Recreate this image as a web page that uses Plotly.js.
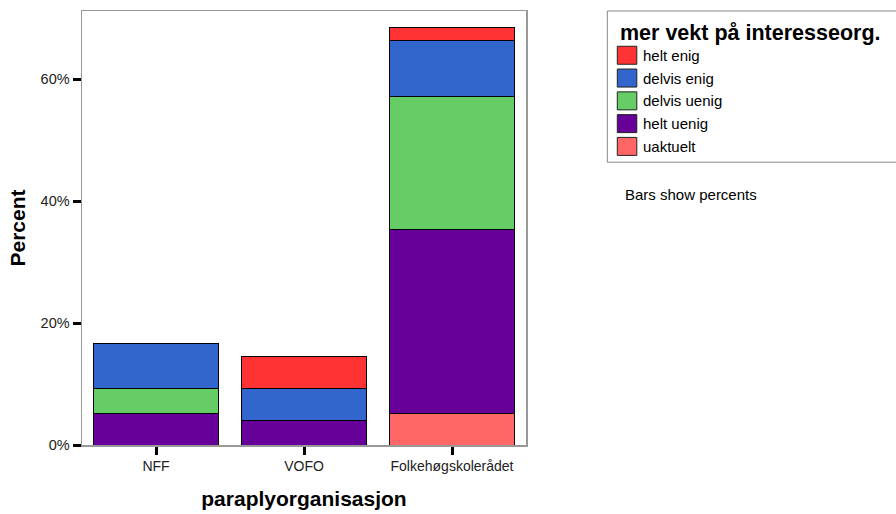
<!DOCTYPE html>
<html>
<head>
<meta charset="utf-8">
<script src="https://cdn.plot.ly/plotly-3.0.1.min.js"></script>
<style>html,body{margin:0;padding:0;background:#fff;}#chart{width:896px;height:514px;}</style>
</head>
<body>
<div id="chart"></div>
<script>
// ---- data ----
const categories = ["NFF", "VOFO", "Folkehøgskolerådet"];
// stacked from bottom to top
const seriesNames = ["uaktuelt", "helt uenig", "delvis uenig", "delvis enig", "helt enig"];
const uaktuelt    = [null, null, 5.13];
const heltUenig   = [5.13, 4.10, 30.3];
const delvisUenig = [4.15, null, 21.7];
const delvisEnig  = [7.38, 5.18, 9.3];
const heltEnig    = [null, 5.31, 2.0];
const seriesValues = [uaktuelt, heltUenig, delvisUenig, delvisEnig, heltEnig];
const seriesColors = ["#FF6666", "#660099", "#66CC66", "#3366CC", "#FF3333"];
// legend order as shown (top to bottom)
const legendOrder = ["helt enig", "delvis enig", "delvis uenig", "helt uenig", "uaktuelt"];
const legendTitle = "mer vekt på interesseorg.";
const footnote = "Bars show percents";
const yTicks = [0, 20, 40, 60];

// ---- layout geometry (pixels) ----
const W = 896, H = 514;
const M = {l: 81.7, r: 896 - 525.7, t: 11, b: 514 - 445.3};
const pw = W - M.l - M.r, ph = H - M.t - M.b;
const px = x => (x - M.l) / pw;
const py = y => (H - M.b - y) / ph;
const FONT = "Liberation Sans, Arial, sans-serif";

const traces = seriesNames.map((name, i) => ({
  type: "bar",
  name: name,
  x: categories,
  y: seriesValues[i],
  marker: {color: seriesColors[i], line: {color: "#000", width: 1}},
  showlegend: false,
  hoverinfo: "x+y+name"
}));

const shapes = [];
const annotations = [];
// legend box
shapes.push({type: "rect", xref: "paper", yref: "paper",
  x0: px(607), x1: px(900), y0: py(162.3), y1: py(11),
  line: {color: "#888", width: 1}, fillcolor: "rgba(0,0,0,0)"});
annotations.push({xref: "paper", yref: "paper", x: px(617.5), y: py(33.5),
  xanchor: "left", yanchor: "middle", showarrow: false, text: "<b>" + legendTitle + "</b>",
  font: {family: FONT, size: 21.5, color: "#000"}});
legendOrder.forEach((nm, k) => {
  const idx = seriesNames.indexOf(nm);
  const cy = 55.3 + k * 22.8;
  shapes.push({type: "rect", xref: "paper", yref: "paper",
    x0: px(617), x1: px(636.5), y0: py(cy + 9), y1: py(cy - 9),
    line: {color: "#222", width: 1}, fillcolor: seriesColors[idx]});
  annotations.push({xref: "paper", yref: "paper", x: px(641), y: py(cy),
    xanchor: "left", yanchor: "middle", showarrow: false, text: nm,
    font: {family: FONT, size: 15, color: "#000"}});
});
annotations.push({xref: "paper", yref: "paper", x: px(622.5), y: py(194.5),
  xanchor: "left", yanchor: "middle", showarrow: false, text: footnote,
  font: {family: FONT, size: 15, color: "#000"}});

const layout = {
  width: W, height: H,
  margin: M,
  paper_bgcolor: "#fff", plot_bgcolor: "#fff",
  barmode: "stack",
  bargap: 0.149,
  font: {family: FONT, size: 14, color: "#222"},
  xaxis: {
    type: "category",
    range: [-0.5, 2.5],
    showline: true, linecolor: "#999", linewidth: 1.5, mirror: true,
    ticks: "outside", ticklen: 8, tickwidth: 3, tickcolor: "#000",
    showgrid: false, zeroline: false,
    tickfont: {family: FONT, size: 14, color: "#222"},
    title: {text: "<b>paraplyorganisasjon</b>", font: {family: FONT, size: 21, color: "#000"}, standoff: 18},
    automargin: false
  },
  yaxis: {
    range: [0, 71.2],
    tickvals: yTicks,
    ticktext: yTicks.map(v => v + "%"),
    showline: true, linecolor: "#999", linewidth: 1.5, mirror: true,
    ticks: "outside", ticklen: 8, tickwidth: 3, tickcolor: "#000",
    showgrid: false, zeroline: false,
    tickfont: {family: FONT, size: 14.5, color: "#222"},
    title: {text: "<b>Percent</b>", font: {family: FONT, size: 21, color: "#000"}, standoff: 9},
    automargin: false
  },
  shapes: shapes,
  annotations: annotations,
  showlegend: false
};

Plotly.newPlot("chart", traces, layout, {displayModeBar: false, staticPlot: true});
</script>
</body>
</html>
